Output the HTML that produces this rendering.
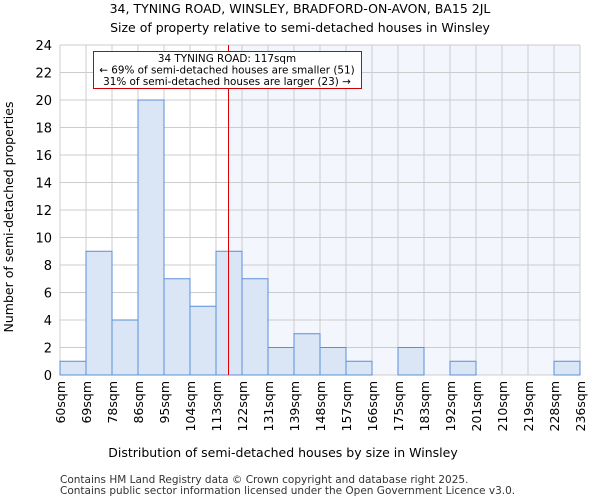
<!DOCTYPE html><html><head><style>body{margin:0;background:#fff;font-family:"DejaVu Sans","Liberation Sans",sans-serif}</style></head><body>
<svg id="c" width="600" height="500" xmlns="http://www.w3.org/2000/svg" font-family="DejaVu Sans, Liberation Sans, sans-serif">
<text x="300" y="13" text-anchor="middle" font-size="12.5">34, TYNING ROAD, WINSLEY, BRADFORD-ON-AVON, BA15 2JL</text>
<text x="300" y="32" text-anchor="middle" font-size="12.5">Size of property relative to semi-detached houses in Winsley</text>
<g id="plot"></g>
<text x="283" y="457" text-anchor="middle" font-size="12.5">Distribution of semi-detached houses by size in Winsley</text>
<text transform="translate(13,217) rotate(-90)" text-anchor="middle" font-size="12.5">Number of semi-detached properties</text>
<text x="60" y="483" font-size="10.5" fill="#333">Contains HM Land Registry data © Crown copyright and database right 2025.</text>
<text x="60" y="494" font-size="10.5" fill="#333">Contains public sector information licensed under the Open Government Licence v3.0.</text>
</svg>
<script>
const binEdges=[60,69,78,86,95,104,113,122,131,139,148,157,166,175,183,192,201,210,219,228,236];
const counts=[1,9,4,20,7,5,9,7,2,3,2,1,0,2,0,1,0,0,0,1];
const yTicks=[0,2,4,6,8,10,12,14,16,18,20,22,24];
const propertySize=117;
const X0=60,X1=580,Y0=375,Y1=45,YMAX=24;
const bw=(X1-X0)/counts.length;
const xi=i=>X0+i*bw;
const y=v=>Y0-(v/YMAX)*(Y0-Y1);
function xv(s){for(let i=0;i<binEdges.length-1;i++){if(s<=binEdges[i+1])return xi(i)+(s-binEdges[i])/(binEdges[i+1]-binEdges[i])*bw;}return X1;}
const NS="http://www.w3.org/2000/svg",g=document.getElementById('plot');
function mk(t,a){const e=document.createElementNS(NS,t);for(const k in a)e.setAttribute(k,a[k]);g.appendChild(e);return e;}
const px=Math.round(xv(propertySize))+0.5;
let e=mk('rect',{x:px,y:Y1,width:X1-px,height:Y0-Y1,fill:'#f3f6fd'});


yTicks.forEach(t=>{let l=mk('line',{x1:X0,x2:X1,y1:y(t),y2:y(t),stroke:'#cccccc'});


let tx=mk('text',{x:X0-8,y:y(t)+5,'text-anchor':'end','font-size':'13'});tx.textContent=t;

});
binEdges.forEach((b,i)=>{let l=mk('line',{x1:xi(i),x2:xi(i),y1:Y1,y2:Y0,stroke:'#cccccc'});


let tx=mk('text',{transform:`translate(${xi(i)+5},${Y0+6}) rotate(-90)`,'text-anchor':'end','font-size':'12.5'});tx.textContent=b+'sqm';

});
counts.forEach((c,i)=>{if(!c)return;let r=mk('rect',{x:xi(i),y:y(c),width:bw,height:Y0-y(c),fill:'#dae5f5',stroke:'#5b8fd9','stroke-width':1});

});
e=mk('line',{x1:px,x2:px,y1:Y1,y2:Y0,stroke:'#dd0000','stroke-width':1});


e=mk('rect',{x:93.5,y:51.5,width:268,height:37,fill:'#fff',stroke:'#cc0000'});


["34 TYNING ROAD: 117sqm","← 69% of semi-detached houses are smaller (51)","31% of semi-detached houses are larger (23) →"].forEach((s,i)=>{let t=mk('text',{x:227,y:62+i*11.5,'text-anchor':'middle','font-size':'10.4'});t.textContent=s;

});
</script></body></html>
